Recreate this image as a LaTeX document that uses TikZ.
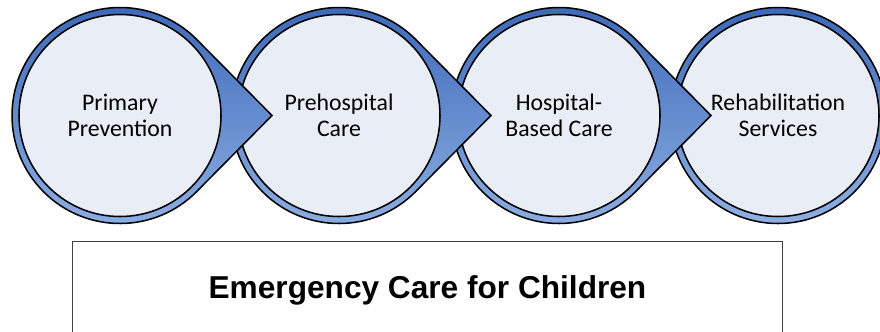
\documentclass[tikz,border=0pt]{standalone}
\usepackage{fontspec}
\setmainfont{Carlito}
\newfontfamily\titlefont{Liberation Sans}
\usetikzlibrary{calc}

\definecolor{ringblue}{HTML}{4472C4}
\definecolor{darkblue}{HTML}{3C68B8}
\definecolor{lightblue}{HTML}{8FB0E4}
\definecolor{discfill}{HTML}{E9EDF5}

\tikzset{
  ring/.style={draw=black, line width=1.3pt, top color=darkblue, middle color=ringblue, bottom color=lightblue},
  disc/.style={circle, draw=black, line width=1.3pt, fill=discfill, minimum size=6.06cm,
    inner sep=0pt, align=center, font=\fontsize{20.3}{22.2}\selectfont},
  titlebox/.style={draw=black!75, line width=0.9pt, fill=white},
}

\newcommand{\stepdrop}[1]{%
  \draw[ring] ($(#1)+(152,0)$) -- ($(#1)+(44.7:108)$)
    arc[start angle=44.7, end angle=315.3, radius=108] -- cycle;}

\begin{document}
\begin{tikzpicture}[x=0.03cm, y=-0.03cm]
  \clip (0, 0) rectangle (880, 331);

  \coordinate (primc) at (120, 115.5);
  \coordinate (prehc) at (339, 115.5);
  \coordinate (hospc) at (559, 115.5);
  \coordinate (rehabc) at (778, 115.5);

  \draw[ring] (rehabc) circle [radius=108];
  \node[disc] (rehab) at (rehabc) {Rehabilitation\\Services};

  \stepdrop{hospc}
  \node[disc] (hosp) at (hospc) {Hospital-\\Based Care};

  \stepdrop{prehc}
  \node[disc] (preh) at (prehc) {Prehospital\\Care};

  \stepdrop{primc}
  \node[disc] (prim) at (primc) {Primary\\Prevention};

  \draw[titlebox] (72.5, 241.5) rectangle (782.5, 345);
  \node[anchor=base, font=\titlefont\bfseries\fontsize{27}{32}\selectfont] (title)
    at (427.5, 298.3) {Emergency Care for Children};
\end{tikzpicture}
\end{document}
